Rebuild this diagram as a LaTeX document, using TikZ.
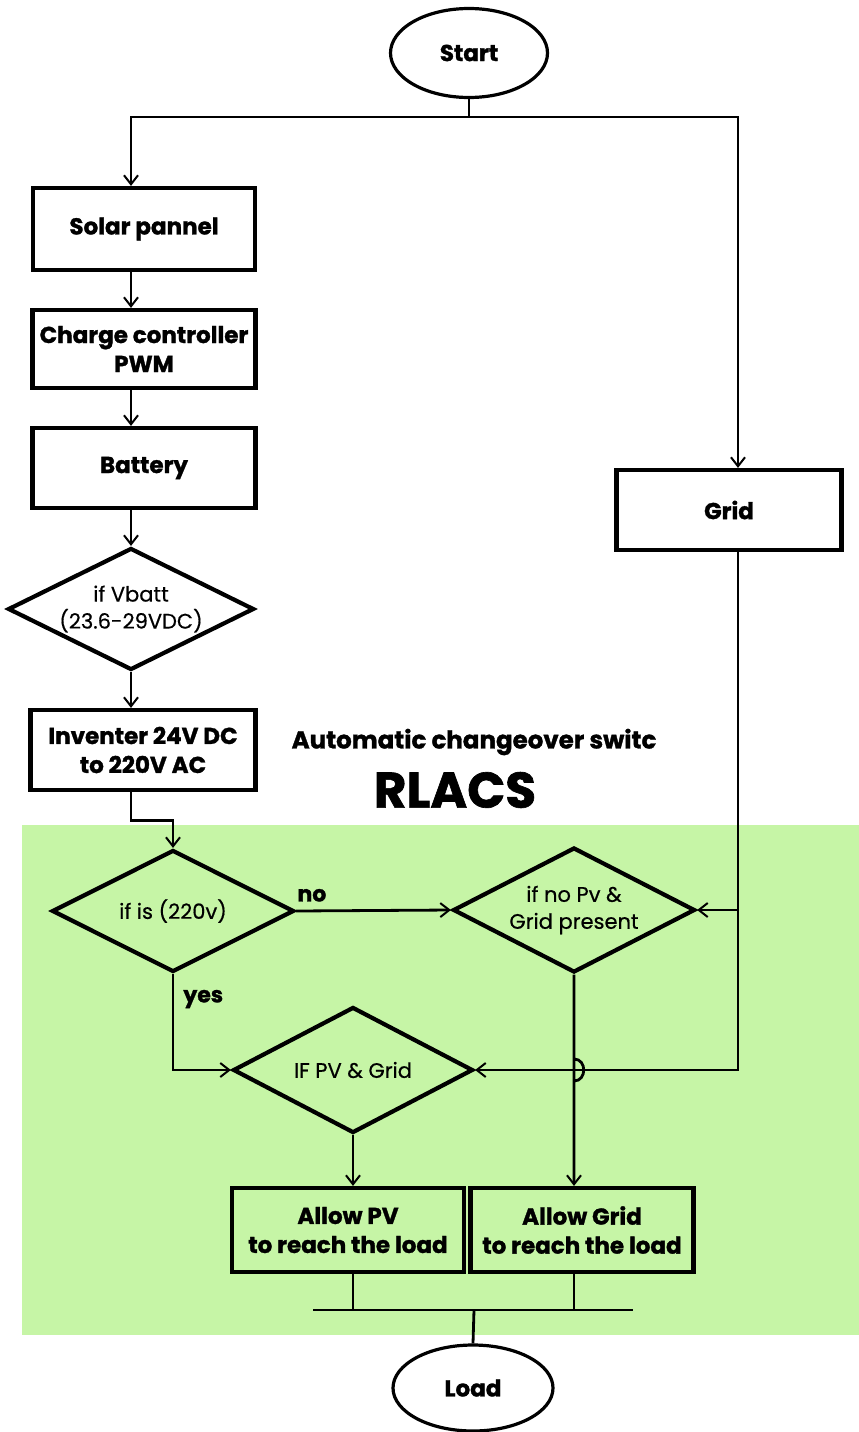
\documentclass[tikz,border=0pt]{standalone}
\usepackage{fontspec}
\setmainfont{Poppins}
\newfontfamily\heavy[BoldFeatures={FakeBold=1.3}]{Poppins}
\newfontfamily\medium[FakeBold=0.5]{Poppins}
\usetikzlibrary{arrows.meta,shapes.geometric}
\definecolor{bggreen}{RGB}{198,245,166}
\begin{document}
\begin{tikzpicture}[x=1pt,y=-1pt,
  box/.style={draw, line width=4.2pt, rectangle, inner sep=0pt, align=center,
    font=\fontsize{23}{29}\heavy\bfseries},
  dia/.style={draw, line width=4.2pt, diamond, aspect=2, inner sep=0pt, align=center,
    font=\fontsize{21}{27}\medium},
  term/.style={draw, line width=3.2pt, ellipse, inner sep=0pt,
    font=\fontsize{23}{27}\heavy\bfseries},
  conn/.style={line width=2.8pt},
  arr/.style={line width=2.8pt, -{Straight Barb[length=9pt,width=14pt,line width=2pt]}},
  lbl/.style={font=\fontsize{22}{24}\heavy\bfseries, inner sep=1pt}
  ]
\useasboundingbox (0,0) rectangle (859,1432);
\fill[bggreen] (22,825) rectangle (859,1335);

\coordinate (colL) at (131,0);
\coordinate (colR) at (738,0);
\coordinate (sp) at (469,117);
\coordinate (bus) at (474,1310);
\coordinate (busL) at (313,1310);
\coordinate (busR) at (633,1310);

\node[term, minimum width=157, minimum height=89] (start) at (469,53) {Start};
\node[box, minimum width=222, minimum height=82] (solar) at (144,229) {Solar pannel};
\node[box, minimum width=223, minimum height=78] (charge) at (144,349) {Charge controller\\PWM};
\node[box, minimum width=223, minimum height=80] (batt) at (144,468) {Battery};
\node[dia, minimum width=246, minimum height=122] (vbatt) at (131,609) {if Vbatt\\(23.6-29VDC)};
\node[box, minimum width=225, minimum height=80] (inv) at (143,750) {Inventer 24V DC\\to 220V AC};
\node[box, minimum width=225, minimum height=80] (grid) at (729,510) {Grid};

\node[font=\fontsize{24.5}{28}\heavy\bfseries] (title) at (474,742) {Automatic changeover switc};
\node[font=\fontsize{50}{56}\heavy\bfseries] (rlacs) at (455,790) {RLACS};

\node[dia, minimum width=242, minimum height=122] (is220) at (173,911) {if is (220v)};
\node[dia, minimum width=242, minimum height=125] (nopv) at (574,910) {if no Pv \&\\Grid present};
\node[dia, minimum width=240, minimum height=126] (pvgrid) at (353,1070) {IF PV \& Grid};
\node[box, minimum width=232, minimum height=84] (allowpv) at (348,1230) {Allow PV\\to reach the load};
\node[box, minimum width=223, minimum height=84] (allowgrid) at (582,1230) {Allow Grid\\to reach the load};
\node[term, minimum width=160, minimum height=86] (load) at (473,1388) {Load};

% top split
\draw[conn] (start.south) -- (sp);
\draw[arr] (sp) -| (solar.north -| colL);
\draw[arr] (sp) -| (grid.north -| colR);
% left column
\draw[arr] (solar.south -| colL) -- (charge.north -| colL);
\draw[arr] (charge.south -| colL) -- (batt.north -| colL);
\draw[arr] (batt.south -| colL) -- (vbatt.north);
\draw[arr] (vbatt.south) -- (inv.north -| vbatt.south);
\draw[arr] (inv.south -| colL) -- ++(0,28) -| (is220.north);
% decisions
\draw[arr] (is220.east) -- (nopv.west)
  node[lbl, pos=0, anchor=south west, xshift=-1pt, yshift=7pt] {no};
\draw[arr] (is220.south) |- (pvgrid.west)
  node[lbl, pos=0.13, anchor=west, xshift=8pt] {yes};
\draw[arr] (grid.south -| colR) |- (pvgrid.east);
\draw[arr] (nopv.east -| colR) -- (nopv.east);
\draw[arr] (pvgrid.south) -- (allowpv.north -| pvgrid.south);
\draw[arr] (nopv.south) -- ([yshift=-11pt]nopv.south |- pvgrid.east)
  .. controls +(13,0) and +(13,0) .. ([yshift=11pt]nopv.south |- pvgrid.east)
  -- (allowgrid.north -| nopv.south);
% bottom bus
\draw[conn] (allowpv.south -| pvgrid.south) -- (bus -| pvgrid.south);
\draw[conn] (allowgrid.south -| nopv.south) -- (bus -| nopv.south);
\draw[conn] (busL) -- (busR);
\draw[conn] (bus) -- (load.north);
\end{tikzpicture}
\end{document}
